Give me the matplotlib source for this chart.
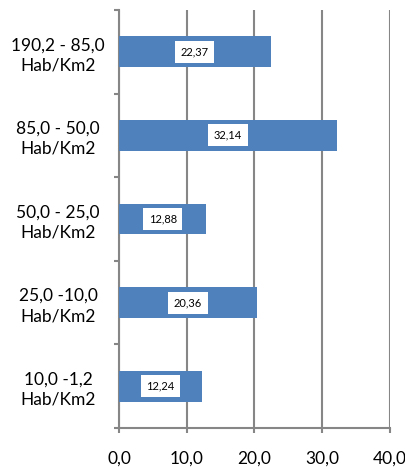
import numpy as np
import matplotlib.pyplot as plt

categories = ['190,2 - 85,0\nHab/Km2', '85,0 - 50,0\nHab/Km2', '50,0 - 25,0\nHab/Km2',
              '25,0 -10,0\nHab/Km2', '10,0 -1,2\nHab/Km2']
values = [22.37, 32.14, 12.88, 20.36, 12.24]
xticks = [0, 10, 20, 30, 40]

plt.rcParams['font.family'] = ['Lato', 'DejaVu Sans']

fig = plt.figure(figsize=(4.06, 4.70), dpi=100)
ax = fig.add_axes([119 / 406, 1 - 428 / 470, 271 / 406, 418 / 470])

y = np.arange(len(categories))[::-1]
ax.barh(y, values, height=0.37, color='#4F81BD', zorder=3)
for yi, v in zip(y, values):
    ax.text(v / 2, yi, f'{v:.2f}'.replace('.', ','), ha='center', va='center',
            fontsize=8, zorder=4,
            bbox=dict(boxstyle='square,pad=0.5', fc='white', ec='none'))

ax.set_xlim(0, 40)
ax.set_ylim(-0.5, len(categories) - 0.5)
ax.set_xticks(xticks)
ax.set_xticklabels([f'{t:.1f}'.replace('.', ',') for t in xticks], fontsize=12.5)
ax.set_yticks(y)
ax.set_yticklabels(categories, fontsize=12.5, linespacing=1.3)
ax.set_yticks(np.arange(len(categories) + 1) - 0.5, minor=True)

ax.grid(axis='x', color='#868686', linewidth=1.5, zorder=0)
for s in ['top', 'right']:
    ax.spines[s].set_visible(False)
for s in ['left', 'bottom']:
    ax.spines[s].set_color('#868686')
    ax.spines[s].set_linewidth(1.5)

ax.tick_params(axis='x', length=3.6, width=1.5, color='#868686', pad=13)
ax.tick_params(axis='y', which='major', length=0, pad=0)
ax.tick_params(axis='y', which='minor', length=3.6, width=1.5, color='#868686')
for lbl in ax.get_yticklabels():
    lbl.set_horizontalalignment('center')
    lbl.set_x(-61 / 271)

fig.savefig('out.png', dpi=100)
